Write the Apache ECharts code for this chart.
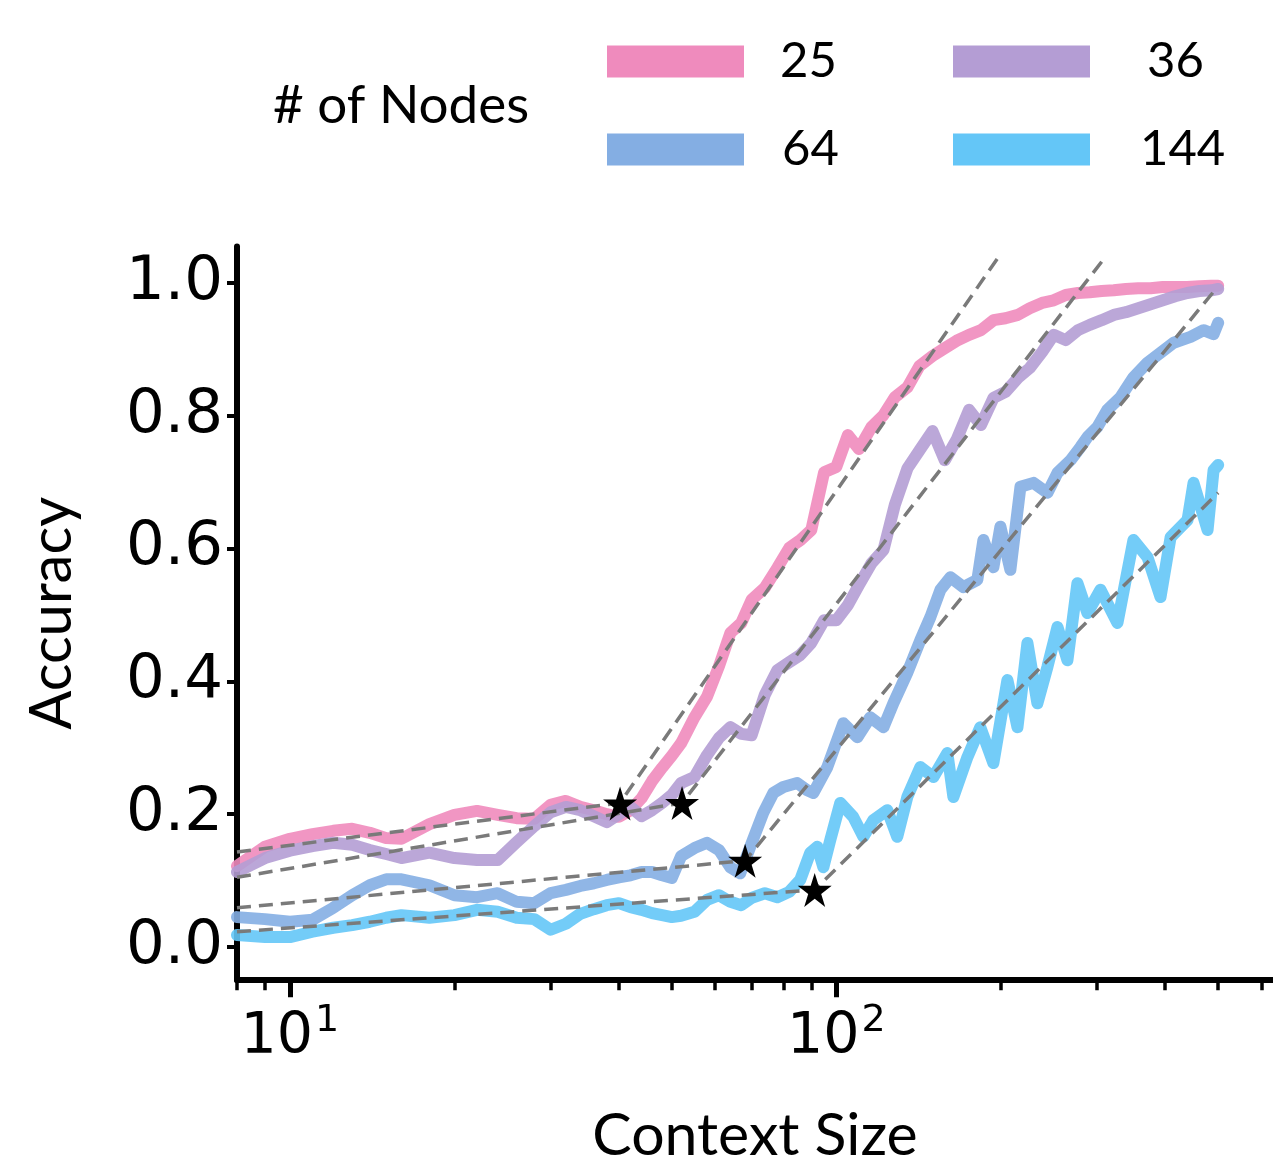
<!DOCTYPE html>
<html>
<head>
<meta charset="utf-8">
<script src="https://cdn.jsdelivr.net/npm/echarts@6/dist/echarts.min.js"></script>
<style>
html,body{margin:0;padding:0;background:#fff;}
#chart{width:1273px;height:1160px;}
</style>
</head>
<body>
<div id="chart"></div>
<script>
// ---- data ----
const contextSize = [8,9,10,11,12,13,14,15,16,18,20,22,24,26,28,30,32,34,36,38,40,42,44,46,48,50,52,55,58,61,64,67,70,74,78,82,86,90,95,100,105,110,116,122,128,135,142,150,158,166,175,184,194,204,215,226,238,250,263,277,291,306,322,339,357,376,396,417,439,462,486,500];

const acc25 = [0.122,0.151,0.163,0.170,0.175,0.178,0.172,0.164,0.163,
0.185,0.199,0.205,0.199,0.194,0.193,0.214,
0.220,0.211,0.206,0.200,0.196,
0.206,0.224,0.250,0.270,0.288,
0.307,0.346,0.377,0.423,0.473,
0.488,0.523,0.541,0.571,0.601,
0.613,0.628,0.715,0.723,0.771,
0.750,0.783,0.801,0.828,0.843,
0.875,0.890,0.902,0.913,0.922,
0.929,0.944,0.947,0.952,0.962,
0.970,0.974,0.982,0.985,0.986,
0.988,0.989,0.991,0.992,0.992,
0.994,0.994,0.994,0.995,0.996,
0.996];

const acc36 = [0.113,0.134,0.145,0.152,0.157,0.154,0.146,0.140,0.134,
0.142,0.134,0.131,0.131,0.158,0.182,0.203,
0.211,0.206,0.197,0.188,0.200,
0.211,0.197,0.206,0.217,0.229,
0.247,0.256,0.289,0.315,0.331,
0.321,0.319,0.380,0.417,0.429,
0.440,0.458,0.492,0.492,0.515,
0.545,0.578,0.598,0.666,0.721,
0.748,0.777,0.733,0.764,0.809,
0.786,0.827,0.836,0.857,0.872,
0.896,0.922,0.914,0.929,0.937,
0.944,0.952,0.956,0.962,0.968,
0.974,0.980,0.985,0.988,0.989,
0.991];

const ctx64 = [8,9,10,11,12,13,14,15,16,18,20,22,24,26,28,30,32,34,36,38,40,42,44,46,48,50,52,55,58,61,64,
66.7,69.6,73.5,76.7,80.0,84.8,88.5,90.8,96.3,103.0,
109.3,115.4,122.0,127.2,134.9,142.5,148.7,155.1,161.8,170.9,
181.2,185.9,193.9,199.7,208.3,217.3,229.6,243.5,254.0,268.3,
279.9,288.2,300.6,313.5,331.2,349.9,371.2,392.2,414.4,445.1,
470.2,490.4,500];
const acc64 = [0.045,0.042,0.038,0.041,0.059,0.078,0.093,0.102,0.102,
0.093,0.078,0.075,0.081,0.068,0.066,0.081,
0.086,0.092,0.096,0.101,0.105,
0.108,0.113,0.113,0.108,0.104,
0.137,0.149,0.157,0.146,0.120,
0.111,0.151,0.202,0.232,0.241,0.247,0.236,0.232,0.271,0.337,
0.316,0.346,0.331,0.367,0.413,0.462,0.497,0.538,0.557,0.542,
0.553,0.613,0.572,0.633,0.568,0.693,0.699,0.684,0.714,0.733,
0.753,0.768,0.783,0.809,0.828,0.858,0.880,0.895,0.910,0.919,
0.929,0.923,0.940];

const ctx144 = [8,9,10,11,12,13,14,15,16,18,20,22,24,26,28,30,32,34,36,38,40,42,44,46,48,50,52,55,58,61,64,67,70,74,78,82,
85.9,89.6,92.3,94.7,97.5,101.7,107.4,112.1,116.9,124.0,
129.3,134.9,142.5,150.6,159.7,163.8,173.8,183.5,193.9,205.7,
214.6,223.8,233.4,243.5,254.0,264.9,276.3,288.2,304.5,327.1,
349.9,371.2,392.2,409.2,439.5,450.7,478.2,490.4,500];
const acc144 = [0.018,0.015,0.015,0.023,0.029,0.033,0.038,0.044,0.048,
0.044,0.048,0.056,0.053,0.044,0.042,0.026,
0.035,0.050,0.057,0.063,0.066,
0.060,0.056,0.051,0.048,0.045,
0.047,0.053,0.071,0.078,0.068,
0.063,0.074,0.081,0.075,0.083,
0.101,0.142,0.151,0.120,0.161,0.217,0.196,0.166,0.191,0.206,
0.166,0.226,0.271,0.256,0.292,0.226,0.286,0.331,0.277,0.402,
0.331,0.458,0.367,0.422,0.482,0.432,0.548,0.503,0.538,0.488,
0.613,0.587,0.527,0.617,0.643,0.699,0.628,0.718,0.726];

// fitted dashed lines: start, transition, end
const fit25 = [[8,0.143],[40.2,0.217],[200,1.044]];
const fit36 = [[8,0.105],[52.2,0.217],[312,1.041]];
const fit64 = [[8,0.059],[68.1,0.130],[494,0.990]];
const fit144 = [[8,0.023],[91.3,0.086],[500,0.684]];
// transition points (stars)
const transitions = [[40.2,0.216],[52.2,0.217],[68.1,0.130],[91.3,0.086]];

const seriesNames = ['25','36','64','144'];
const seriesColors = ['#EF8BBD','#B49DD4','#84AEE3','#64C6F7'];
const yTicks = [0,0.2,0.4,0.6,0.8,1.0];
const xMajorTicks = [10,100];
const xMinorTicks = [8,9,20,30,40,50,60,70,80,90,200,300,400,500,600];

// ---- chart ----
const chart = echarts.init(document.getElementById('chart'), null, {renderer:'canvas'});
const xs = [contextSize, contextSize, ctx64, ctx144];
const accs = [acc25, acc36, acc64, acc144];
const fits = [fit25, fit36, fit64, fit144];

const starPath = 'path://M50,0 L61.2,34.5 L97.6,34.5 L68.2,55.9 L79.4,90.5 L50,69.1 L20.6,90.5 L31.8,55.9 L2.4,34.5 L38.8,34.5 Z';

const series = [];
accs.forEach((a, i) => {
  series.push({
    name: seriesNames[i],
    type: 'line',
    data: xs[i].map((x, k) => [x, a[k]]),
    symbol: 'none',
    smooth: false,
    z: 2,
    lineStyle: {width: 12, color: seriesColors[i], opacity: 0.9, cap: 'round', join: 'round'},
    itemStyle: {color: seriesColors[i]},
    animation: false
  });
});
fits.forEach((f) => {
  series.push({
    type: 'line',
    data: f,
    symbol: 'none',
    z: 5,
    lineStyle: {width: 3.5, color: '#7a7a7a', type: [14, 8]},
    animation: false
  });
});
series.push({
  type: 'scatter',
  data: transitions,
  symbol: starPath,
  symbolSize: 34,
  z: 10,
  itemStyle: {color: '#000', opacity: 1},
  animation: false
});

const legendLayout = [
  {left: 607, top: 37, pad: 31},
  {left: 953, top: 37, pad: 52},
  {left: 607, top: 125, pad: 33},
  {left: 953, top: 125, pad: 45}
];

const option = {
  backgroundColor: '#fff',
  animation: false,
  title: {
    text: '# of Nodes',
    left: 268, top: 74,
    textStyle: {fontFamily: 'Lato', fontSize: 53, fontWeight: 'normal', color: '#000'}
  },
  legend: seriesNames.map((n, i) => ({
    data: [n],
    left: legendLayout[i].left,
    top: legendLayout[i].top,
    orient: 'horizontal',
    icon: 'rect',
    itemWidth: 137,
    itemHeight: 32,
    selectedMode: false,
    padding: 0,
    textStyle: {fontFamily: 'Lato', fontSize: 49, color: '#000',
      padding: [0, 0, 14, legendLayout[i].pad]}
  })),
  grid: {left: 237, right: 0, top: 246.5, bottom: 179.8, outerBoundsMode: 'none', containLabel: false},
  xAxis: [
    {
      type: 'log', logBase: 10, min: 8, max: 630,
      position: 'bottom',
      name: 'Context Size', nameLocation: 'middle', nameGap: 126,
      nameTextStyle: {fontFamily: 'Lato', fontSize: 59, color: '#000'},
      axisLine: {show: true, onZero: false, lineStyle: {color: '#000', width: 6}},
      axisTick: {show: true, customValues: xMajorTicks, length: 17, lineStyle: {color: '#000', width: 5}},
      splitLine: {show: false},
      minorTick: {show: false},
      axisLabel: {
        customValues: xMajorTicks,
        margin: 22,
        formatter: function (v) { return '{b|10}{s|' + Math.round(Math.log10(v)) + '}'; },
        rich: {
          b: {fontFamily: 'DejaVu Sans', fontSize: 57, color: '#000', verticalAlign: 'bottom'},
          s: {fontFamily: 'DejaVu Sans', fontSize: 38, color: '#000', verticalAlign: 'top', padding: [0, 0, 26, 2]}
        }
      }
    },
    {
      type: 'log', logBase: 10, min: 8, max: 630,
      position: 'bottom',
      axisLine: {show: false, onZero: false},
      axisTick: {show: true, customValues: xMinorTicks, length: 10, lineStyle: {color: '#000', width: 3.5}},
      axisLabel: {show: false},
      splitLine: {show: false}
    }
  ],
  yAxis: {
    type: 'value', min: -0.05, max: 1.055,
    name: 'Accuracy', nameLocation: 'middle', nameGap: 156, nameRotate: 90,
    nameTextStyle: {fontFamily: 'Lato', fontSize: 58, color: '#000'},
    axisLine: {show: true, onZero: false, lineStyle: {color: '#000', width: 6}},
    axisTick: {show: true, customValues: yTicks, length: 10, lineStyle: {color: '#000', width: 4}},
    splitLine: {show: false},
    axisLabel: {
      customValues: yTicks,
      margin: 14,
      fontFamily: 'DejaVu Sans', fontSize: 61, color: '#000',
      formatter: function (v) { return v.toFixed(1); }
    }
  },
  series: series
};
chart.setOption(option);
</script>
</body>
</html>
